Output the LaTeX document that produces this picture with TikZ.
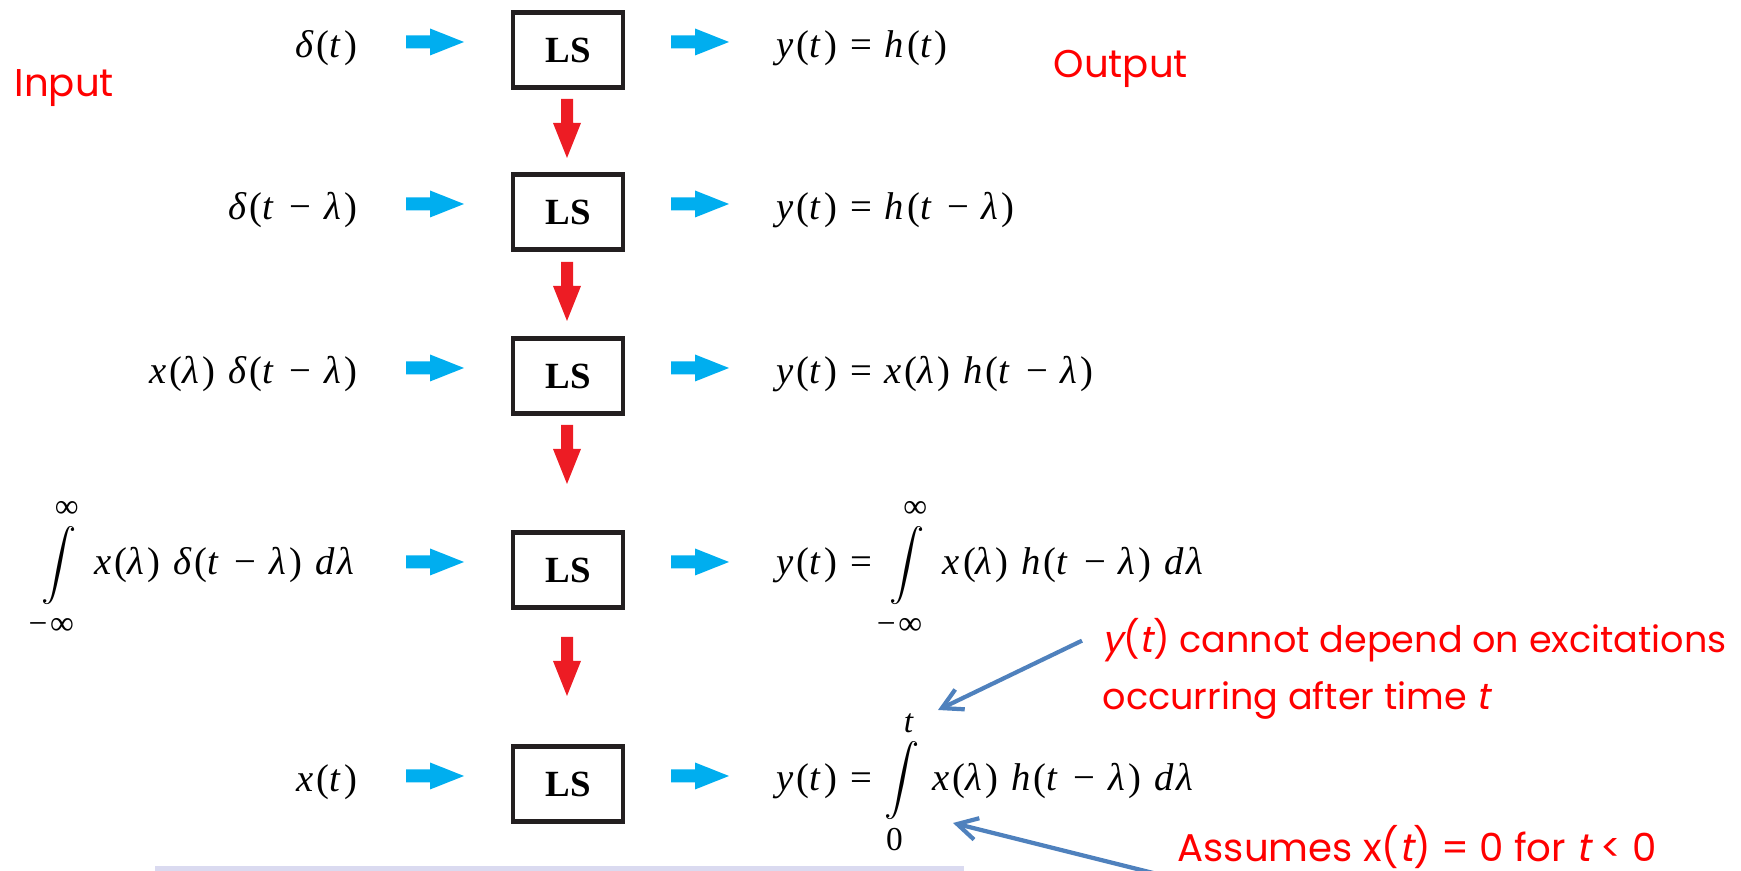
\documentclass[tikz,border=0pt]{standalone}
\usepackage{fontspec}
\setmainfont{Liberation Serif}
\newfontfamily\sigfont{Liberation Serif}[LetterSpace=8]
\newfontfamily\gothic{Poppins}
\newfontfamily\gothicsl{Poppins}[FakeSlant=0.2]
\definecolor{sigblue}{RGB}{0,174,239}
\definecolor{flowred}{RGB}{237,28,36}
\definecolor{notered}{RGB}{255,0,0}
\definecolor{noteline}{RGB}{79,129,189}
\definecolor{boxgray}{RGB}{35,31,32}
\definecolor{band}{RGB}{218,218,240}
\usetikzlibrary{arrows.meta,positioning}
\newcommand{\iv}[1]{\textit{#1}}
\newcommand{\sv}[1]{{\gothicsl #1}}
\newcommand{\intlim}[1]{\hbox{\fontsize{9.5}{10}\selectfont #1}}
\newcommand{\integ}[2]{$\displaystyle\int\limits_{\intlim{\rule{0pt}{7pt}#1}}^{\intlim{\rule[-1.5pt]{0pt}{1.5pt}#2}}$}

\begin{document}
\begin{tikzpicture}[x=0.01cm,y=-0.01cm,
    lsbox/.style={draw=boxgray,line width=1.2pt,minimum width=1.1cm,minimum height=0.75cm,inner sep=0pt,font=\fontsize{10.5}{12}\selectfont\bfseries},
    sig/.style={inner sep=0pt,font=\fontsize{11}{14}\sigfont},
    note/.style={inner sep=0pt,text=notered,font=\fontsize{11}{13}\gothic},
    notesmall/.style={note,font=\fontsize{10.4}{13}\gothic},
    notearrow/.style={draw=noteline,line width=1.2pt,-{Straight Barb[length=0.2cm,width=0.22cm]}}]
    \useasboundingbox (0,0) rectangle (1741,871);
    \fill[band] (155,866) rectangle (964,871);

    % LS blocks with input and output arrows
    \foreach \r/\y in {1/50,2/212,3/376,4/570,5/784} {
        \node[lsbox] (ls\r) at (568,\y) {LS};
        \pgfmathsetmacro{\ya}{\y-8}
        \foreach \x in {406,671} {
            \fill[sigblue] (\x,\ya) ++(0,-6.5) -- ++(24,0) -- ++(0,-7) -- ++(34,13.5)
                -- ++(-34,13.5) -- ++(0,-7) -- ++(-24,0) -- cycle;
        }
    }

    % red arrows between the rows
    \foreach \t in {99,262,425,637} {
        \fill[flowred] (561,\t) -- ++(12,0) -- ++(0,24) -- ++(8,0) -- ++(-14,35)
            -- ++(-14,-35) -- ++(8,0) -- cycle;
    }

    % inputs
    \node[sig,anchor=east] (in1) at (358,48) {\iv{δ}(\iv{t})};
    \node[sig,anchor=east] (in2) at (358,210) {\iv{δ}(\iv{t} − \iv{λ})};
    \node[sig,anchor=east] (in3) at (358,374) {\iv{x}(\iv{λ}) \iv{δ}(\iv{t} − \iv{λ})};
    \node[sig,anchor=east] (in4) at (358,568) {\integ{−∞}{∞} \iv{x}(\iv{λ}) \iv{δ}(\iv{t} − \iv{λ}) \iv{dλ}};
    \node[sig,anchor=east] (in5) at (358,782) {\iv{x}(\iv{t})};

    % outputs
    \node[sig,anchor=west] (out1) at (776,48) {\iv{y}(\iv{t}) = \iv{h}(\iv{t})};
    \node[sig,anchor=west] (out2) at (776,210) {\iv{y}(\iv{t}) = \iv{h}(\iv{t} − \iv{λ})};
    \node[sig,anchor=west] (out3) at (776,374) {\iv{y}(\iv{t}) = \iv{x}(\iv{λ}) \iv{h}(\iv{t} − \iv{λ})};
    \node[sig,anchor=west] (out4) at (776,568) {\iv{y}(\iv{t}) = \integ{−∞}{∞} \iv{x}(\iv{λ}) \iv{h}(\iv{t} − \iv{λ}) \iv{dλ}};
    \node[sig,anchor=west] (out5) at (776,782) {\iv{y}(\iv{t}) = \integ{0}{\iv{t}} \iv{x}(\iv{λ}) \iv{h}(\iv{t} − \iv{λ}) \iv{dλ}};

    % red remarks
    \node[note,anchor=base west] (inlabel) at (14,97) {Input};
    \node[note,anchor=base west] (outlabel) at (1053,78) {Output};
    \node[notesmall,anchor=base west] (cause1) at (1102,653) {\sv{y}(\sv{t}) cannot depend on excitations};
    \node[notesmall,anchor=base west] (cause2) at (1102,710) {occurring after time \sv{t}};
    \node[note,anchor=base west] (zero) at (1177,862) {Assumes x(\sv{t}) = 0 for \sv{t} < 0};

    \coordinate (tlim) at (938,710);
    \coordinate (zlim) at (953,823);
    \coordinate (tail) at (1165,876);
    \draw[notearrow] ([xshift=-0.2cm]cause1.west) -- (tlim);
    \draw[notearrow] (tail) -- (zlim);
\end{tikzpicture}
\end{document}
